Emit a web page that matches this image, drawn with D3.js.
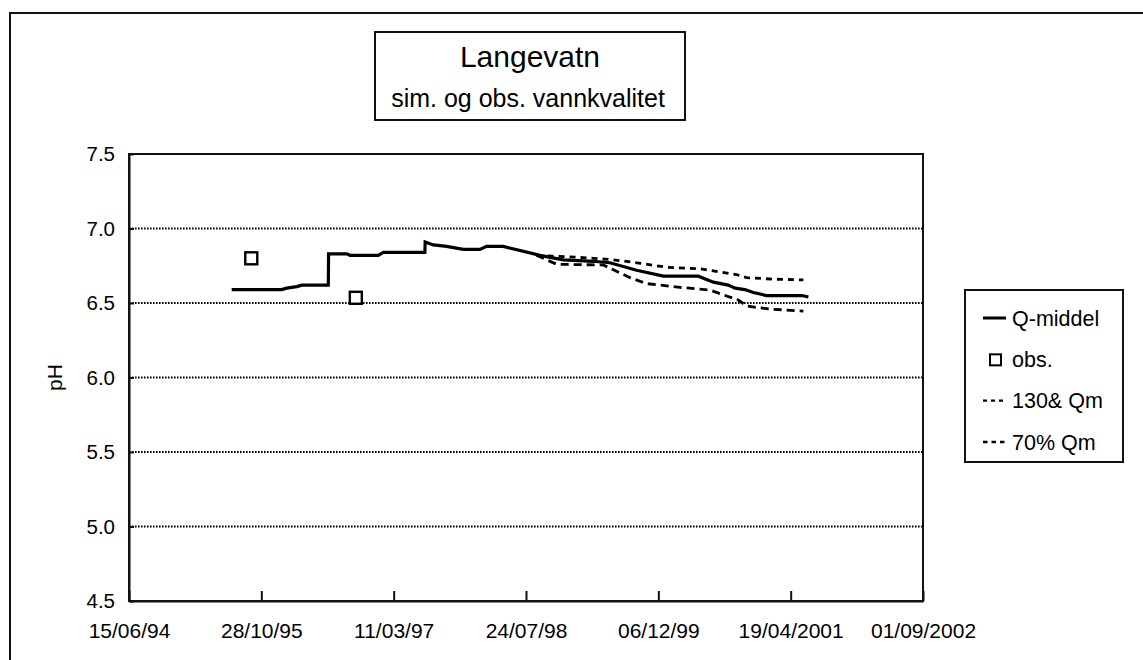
<!DOCTYPE html>
<html>
<head>
<meta charset="utf-8">
<script src="https://cdn.jsdelivr.net/npm/d3@7"></script>
<style>
  body { margin: 0; background: #fff; }
  text { font-family: "Liberation Sans", Arial, sans-serif; fill: #000; }
</style>
</head>
<body>
<script>
// pH, Langevatn: simulated (Q-middel, 130% and 70% flow) and observed
const qMiddelDates = ["1995-07-08", "1996-01-13", "1996-02-01", "1996-03-10", "1996-03-29", "1996-07-07",
    "1996-07-08", "1996-09-15", "1996-09-27", "1997-01-12", "1997-01-31", "1997-07-07", "1997-07-08",
    "1997-08-08", "1997-09-27", "1997-11-29", "1998-01-31", "1998-02-25", "1998-04-29", "1998-09-15",
    "1998-12-12", "1999-04-04", "1999-06-06", "1999-09-15", "1999-12-25", "2000-05-05", "2000-07-01",
    "2000-08-26", "2000-09-21", "2000-10-28", "2000-11-29", "2001-01-18", "2001-05-31", "2001-06-25"];
const qMiddelValues = [6.59, 6.59, 6.60, 6.61, 6.62, 6.62,
    6.83, 6.83, 6.82, 6.82, 6.84, 6.84, 6.91,
    6.89, 6.88, 6.86, 6.86, 6.88, 6.88, 6.82,
    6.79, 6.78, 6.77, 6.72, 6.68, 6.68, 6.64,
    6.62, 6.60, 6.59, 6.57, 6.55, 6.55, 6.54];

const q70Dates = ["1998-09-02", "1999-01-06", "1999-04-04", "1999-06-19", "1999-09-15", "2000-01-07",
    "2000-05-11", "2000-07-01", "2000-09-27", "2000-11-04", "2001-02-12", "2001-06-06"];
const q70Values = [6.82, 6.81, 6.80, 6.79, 6.77, 6.74, 6.73, 6.715, 6.69, 6.67, 6.66, 6.655];

const q130Dates = ["1998-09-02", "1998-10-10", "1998-11-17", "1999-05-12", "1999-08-21", "1999-10-23",
    "2000-02-26", "2000-06-18", "2000-08-20", "2000-10-03", "2000-11-04", "2000-12-12", "2001-02-12", "2001-06-06"];
const q130Values = [6.82, 6.79, 6.76, 6.755, 6.67, 6.63, 6.605, 6.587, 6.547, 6.52, 6.48, 6.47, 6.458, 6.446];

const obsDates = ["1995-09-20", "1996-10-19"];
const obsValues = [6.80, 6.535];

const xTickDates = ["1994-06-15", "1995-10-28", "1997-03-11", "1998-07-24", "1999-12-06", "2001-04-19", "2002-09-01"];
const xTickLabels = ["15/06/94", "28/10/95", "11/03/97", "24/07/98", "06/12/99", "19/04/2001", "01/09/2002"];
const yTicks = [4.5, 5.0, 5.5, 6.0, 6.5, 7.0, 7.5];

const legendLabels = ["Q-middel", "obs.", "130& Qm", "70% Qm"];

const width = 1143, height = 660;
const plot = { left: 129, right: 923, top: 154, bottom: 601 };

const parse = d3.timeParse("%Y-%m-%d");
const zip = (ds, vs) => ds.map((d, i) => ({ date: parse(d), value: vs[i] }));

const svg = d3.select("body").append("svg")
    .attr("width", width)
    .attr("height", height);

// outer frame (top and left edges visible)
svg.append("path")
    .attr("d", "M10,660 L10,13 L1143,13")
    .attr("fill", "none")
    .attr("stroke", "#111")
    .attr("stroke-width", 2);

const x = d3.scaleTime()
    .domain([parse(xTickDates[0]), parse(xTickDates[xTickDates.length - 1])])
    .range([plot.left, plot.right]);

const y = d3.scaleLinear()
    .domain([4.5, 7.5])
    .range([plot.bottom, plot.top]);

// dotted gridlines
svg.append("g")
    .selectAll("line")
    .data(yTicks.filter(v => v > 4.5 && v < 7.5))
    .enter().append("line")
    .attr("x1", plot.left)
    .attr("x2", plot.right)
    .attr("y1", d => y(d))
    .attr("y2", d => y(d))
    .attr("stroke", "#000")
    .attr("stroke-width", 2)
    .attr("stroke-dasharray", "1.6,1.4");

// plot frame
svg.append("rect")
    .attr("x", plot.left)
    .attr("y", plot.top)
    .attr("width", plot.right - plot.left)
    .attr("height", plot.bottom - plot.top)
    .attr("fill", "none")
    .attr("stroke", "#111")
    .attr("stroke-width", 2);

const xAxis = d3.axisBottom(x)
    .tickValues(xTickDates.map(parse))
    .tickFormat((d, i) => xTickLabels[i])
    .tickSizeInner(-10)
    .tickSizeOuter(0)
    .tickPadding(22);

const gx = svg.append("g")
    .attr("transform", "translate(0," + plot.bottom + ")")
    .call(xAxis);
gx.select(".domain").attr("stroke", "#111").attr("stroke-width", 2);
gx.selectAll(".tick line").attr("stroke", "#111").attr("stroke-width", 2);
gx.selectAll(".tick text")
    .attr("font-size", 21)
    .style("font-family", "'Liberation Sans', Arial, sans-serif");

const yAxis = d3.axisLeft(y)
    .tickValues(yTicks)
    .tickFormat(d3.format(".1f"))
    .tickSizeInner(-5)
    .tickSizeOuter(0)
    .tickPadding(14);

const gy = svg.append("g")
    .attr("transform", "translate(" + plot.left + ",0)")
    .call(yAxis);
gy.select(".domain").attr("stroke", "#111").attr("stroke-width", 2);
gy.selectAll(".tick line").attr("stroke", "#111").attr("stroke-width", 2);
gy.selectAll(".tick text")
    .attr("font-size", 20.5)
    .style("font-family", "'Liberation Sans', Arial, sans-serif");

svg.append("text")
    .attr("transform", "translate(62," + ((plot.top + plot.bottom) / 2) + ") rotate(-90)")
    .attr("text-anchor", "middle")
    .attr("font-size", 21)
    .text("pH");

const line = d3.line()
    .x(d => x(d.date))
    .y(d => y(d.value));

svg.append("path")
    .datum(zip(q70Dates, q70Values))
    .attr("d", line)
    .attr("fill", "none")
    .attr("stroke", "#000")
    .attr("stroke-width", 2.8)
    .attr("stroke-dasharray", "6,5");

svg.append("path")
    .datum(zip(q130Dates, q130Values))
    .attr("d", line)
    .attr("fill", "none")
    .attr("stroke", "#000")
    .attr("stroke-width", 2.8)
    .attr("stroke-dasharray", "8,5");

svg.append("path")
    .datum(zip(qMiddelDates, qMiddelValues))
    .attr("d", line)
    .attr("fill", "none")
    .attr("stroke", "#000")
    .attr("stroke-width", 3.2);

svg.append("g")
    .selectAll("rect")
    .data(zip(obsDates, obsValues))
    .enter().append("rect")
    .attr("x", d => x(d.date) - 6)
    .attr("y", d => y(d.value) - 6)
    .attr("width", 12)
    .attr("height", 12)
    .attr("fill", "#fff")
    .attr("stroke", "#000")
    .attr("stroke-width", 2.4);

// title box
const title = svg.append("g");
title.append("rect")
    .attr("x", 375).attr("y", 32)
    .attr("width", 310).attr("height", 88)
    .attr("fill", "#fff")
    .attr("stroke", "#111")
    .attr("stroke-width", 2);
title.append("text")
    .attr("x", 530).attr("y", 67)
    .attr("text-anchor", "middle")
    .attr("font-size", 30)
    .text("Langevatn");
title.append("text")
    .attr("x", 528).attr("y", 107)
    .attr("text-anchor", "middle")
    .attr("font-size", 25)
    .text("sim. og obs. vannkvalitet");

// legend
const legend = svg.append("g");
legend.append("rect")
    .attr("x", 965).attr("y", 290)
    .attr("width", 158).attr("height", 172)
    .attr("fill", "#fff")
    .attr("stroke", "#111")
    .attr("stroke-width", 2);

const legendY = d3.scalePoint()
    .domain(legendLabels)
    .range([318, 442]);

const item = legend.selectAll(".item")
    .data(legendLabels)
    .enter().append("g")
    .attr("class", "item")
    .attr("transform", d => "translate(0," + legendY(d) + ")");

item.append("text")
    .attr("x", 1012)
    .attr("dy", "0.36em")
    .attr("font-size", 21.5)
    .text(d => d);

item.filter((d, i) => i !== 1).append("line")
    .attr("x1", 983).attr("x2", 1006)
    .attr("stroke", "#000")
    .attr("stroke-width", (d, i) => i === 0 ? 3 : 2.4)
    .attr("stroke-dasharray", (d, i) => i === 0 ? null : (i === 1 ? "4,4" : "4.5,4"));

item.filter((d, i) => i === 1).append("rect")
    .attr("x", 990).attr("y", -5)
    .attr("width", 11).attr("height", 11)
    .attr("fill", "#fff")
    .attr("stroke", "#000")
    .attr("stroke-width", 2);
</script>
</body>
</html>
